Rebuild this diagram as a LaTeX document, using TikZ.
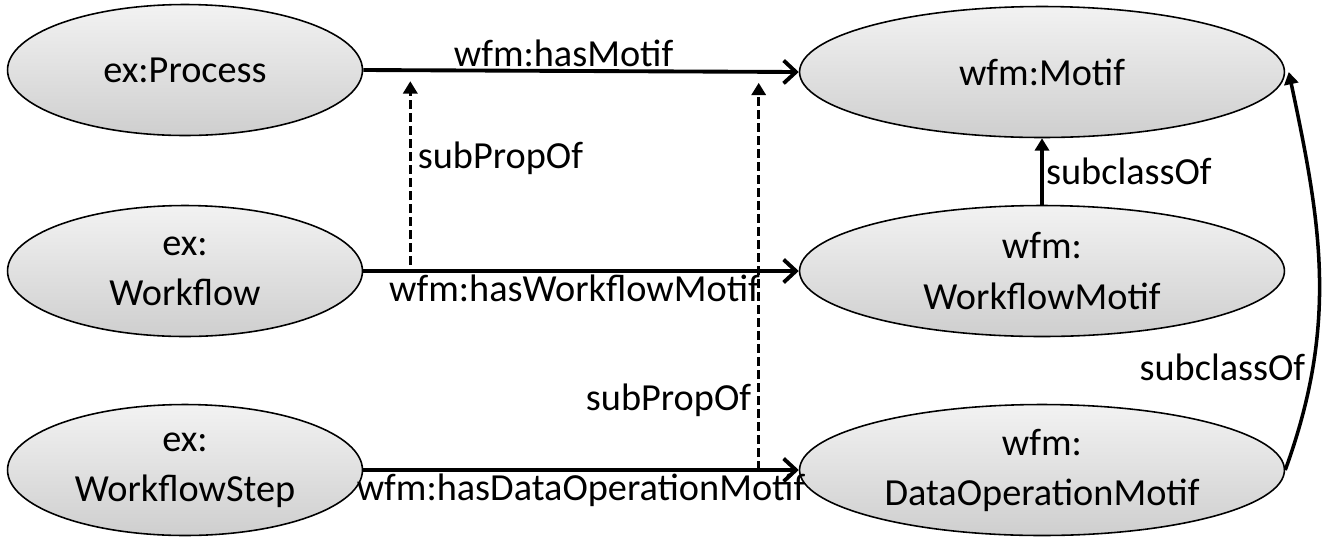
\documentclass[tikz,border=0pt]{standalone}
\usepackage{fontspec}
\setmainfont{Carlito}
\usetikzlibrary{arrows.meta,shapes.geometric}

\begin{document}
\begin{tikzpicture}[x=0.02cm,y=-0.02cm, % pixel grid, y flipped
    font=\fontsize{21.8}{28.5}\selectfont,
    cls/.style={ellipse,draw,line width=0.9pt,inner sep=0pt,align=center,
      top color=gray!10,bottom color=gray!38,minimum height=2.62cm},
    lcls/.style={cls,minimum width=7.1cm},
    rcls/.style={cls,minimum width=9.7cm},
    prop/.style={line width=2.2pt,-{Straight Barb[length=7pt,width=13pt,line width=2.2pt]}},
    subp/.style={line width=2pt,dash pattern=on 5pt off 2.4pt,-{Triangle[length=7pt,width=8pt]}},
    subc/.style={line width=2pt,-{Triangle[length=7pt,width=8pt]}}]
  \useasboundingbox (0,0) rectangle (1332,549);
  % classes
  \node[lcls] (proc) at (185,70) {ex:Process};
  \node[lcls] (wf) at (185,271) {ex:\\Workflow};
  \node[lcls] (step) at (185,470) {ex:\\WorkflowStep};
  \node[rcls] (motif) at (1042,72) {wfm:Motif};
  \node[rcls] (wfmotif) at (1042,271) {wfm:\\WorkflowMotif};
  \node[rcls] (domotif) at (1042,470) {wfm:\\DataOperationMotif};
  % properties
  \draw[prop] (proc.east) -- coordinate[pos=0.108] (hm1) coordinate[pos=0.908] (hm2)
    node[above,pos=0.46,yshift=-2pt] {wfm:hasMotif} (motif.west);
  \draw[prop] (wf.east) -- coordinate[pos=0.108] (hwm)
    node[below,pos=0.485,yshift=2pt] {wfm:hasWorkflowMotif} (wfmotif.west);
  \draw[prop] (step.east) -- coordinate[pos=0.908] (hdm)
    node[below,pos=0.5,yshift=2pt] {wfm:hasDataOperationMotif} (domotif.west);
  % subproperty links
  \draw[subp] ([yshift=0.12cm]hwm) -- node[right,pos=0.58] {subPropOf} ([yshift=-0.22cm]hm1);
  \draw[subp] (hdm) -- node[left,pos=0.18] {subPropOf} ([yshift=-0.22cm]hm2);
  % subclass links
  \draw[subc] (wfmotif.north) -- node[right,xshift=-2pt] {subclassOf} (motif.south);
  \draw[subc] (domotif.east) to[out=70,in=-78] node[left,pos=0.25] {subclassOf} ([xshift=2pt]motif.east);
\end{tikzpicture}
\end{document}
